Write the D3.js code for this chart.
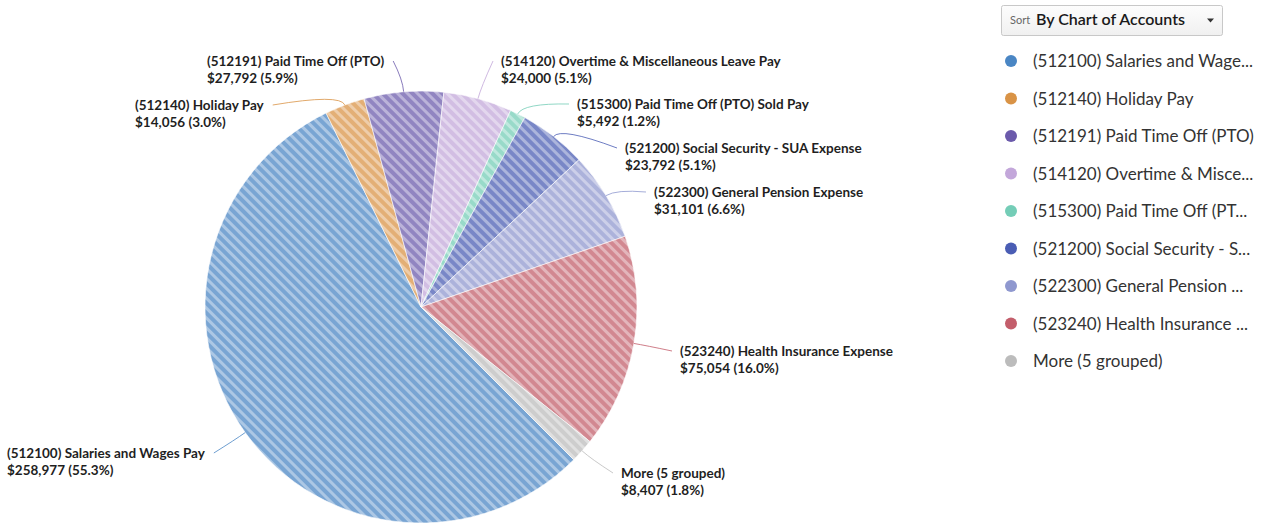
<!DOCTYPE html>
<html>
<head>
<meta charset="utf-8">
<script src="https://cdn.jsdelivr.net/npm/d3@7"></script>
<style>
	body { margin: 0; background: #fff; }
	svg { display: block; font-family: Lato, "Open Sans", sans-serif; }
	.lbl { font-weight: bold; font-size: 13.5px; fill: #1f1f1f; }
	.leg text { font-size: 17px; fill: #333; }
</style>
</head>
<body>
<div id="chart"></div>
<script>
	'use strict'
	// values
	const accounts = ["(512100) Salaries and Wages Pay", "(512140) Holiday Pay", "(512191) Paid Time Off (PTO)",
		"(514120) Overtime & Miscellaneous Leave Pay", "(515300) Paid Time Off (PTO) Sold Pay",
		"(521200) Social Security - SUA Expense", "(522300) General Pension Expense",
		"(523240) Health Insurance Expense", "More (5 grouped)"]
	const legendNames = ["(512100) Salaries and Wage...", "(512140) Holiday Pay", "(512191) Paid Time Off (PTO)",
		"(514120) Overtime & Misce...", "(515300) Paid Time Off (PT...", "(521200) Social Security - S...",
		"(522300) General Pension ...", "(523240) Health Insurance ...", "More (5 grouped)"]
	const amounts = [258977, 14056, 27792, 24000, 5492, 23792, 31101, 75054, 8407]
	const colors = ["#4a86c4", "#d99346", "#6b5aab", "#c3a7da", "#74cdb7", "#4a5db4", "#8f98cf", "#c35e6b", "#bcbcbc"]

	// where each label sits (left x, first baseline) and which side its leader attaches
	const labelX = [7, 135, 207, 501, 577, 625, 654, 680, 621]
	const labelY = [458, 110, 66, 66, 109, 153, 197, 356, 478]
	const labelSide = ["left", "left", "left", "right", "right", "right", "right", "right", "right"]

	let w = 1261, h = 527
	let cx = 421, cy = 307, r = 216

	let svg = d3.select('#chart').append('svg').attr('width', w).attr('height', h)
	let defs = svg.append('defs')

	colors.forEach(function(c, i){
		let p = defs.append('pattern').attr('id', 'hatch' + i)
			.attr('patternUnits', 'userSpaceOnUse')
			.attr('width', 7).attr('height', 7)
			.attr('patternTransform', 'rotate(-45)')
		p.append('rect').attr('width', 7).attr('height', 7).attr('fill', '#fff')
		p.append('rect').attr('width', 7).attr('height', 7).attr('fill', c).attr('fill-opacity', 0.74)
		p.append('rect').attr('width', 3).attr('height', 7).attr('fill', '#fff').attr('fill-opacity', 0.38)
	})

	let total = d3.sum(amounts)
	let pie = d3.pie().sort(null).value(function(d){ return d })
		.startAngle(Math.PI * 3 / 4).endAngle(Math.PI * 3 / 4 + 2 * Math.PI)
	let arcs = pie(amounts)
	let arc = d3.arc().innerRadius(0).outerRadius(r)

	let g = svg.append('g').attr('transform', 'translate(' + cx + ',' + cy + ')')
	g.selectAll('path.slice').data(arcs).enter().append('path')
		.attr('class', 'slice')
		.attr('d', arc)
		.attr('fill', function(d, i){ return 'url(#hatch' + i + ')' })
		.attr('stroke', '#fff').attr('stroke-width', 0.6)

	// labels
	let fmt = d3.format(',')
	let labels = svg.append('g')
	arcs.forEach(function(d, i){
		let t = labels.append('text').attr('class', 'lbl')
		t.append('tspan').attr('x', labelX[i]).attr('y', labelY[i]).text(accounts[i])
		t.append('tspan').attr('x', labelX[i]).attr('y', labelY[i] + 17)
			.text('$' + fmt(amounts[i]) + ' (' + (amounts[i] / total * 100).toFixed(1) + '%)')

		let first = t.select('tspan').node().getComputedTextLength()
		let ex = labelSide[i] == 'left' ? labelX[i] + first + 9 : labelX[i] - 8
		let ey = labelY[i] - 5

		let mid = (d.startAngle + d.endAngle) / 2
		let ax = cx + Math.sin(mid) * r, ay = cy - Math.cos(mid) * r
		let kx = cx + Math.sin(mid) * (r + 12), ky = cy - Math.cos(mid) * (r + 12)
		labels.append('path')
			.attr('d', 'M' + ax + ',' + ay + 'Q' + kx + ',' + ky + ' ' + ex + ',' + ey)
			.attr('fill', 'none')
			.attr('stroke', colors[i]).attr('stroke-opacity', 0.8).attr('stroke-width', 1)
	})

	// sort box
	let sortG = svg.append('g')
	let grad = defs.append('linearGradient').attr('id', 'btn').attr('x1', 0).attr('y1', 0).attr('x2', 0).attr('y2', 1)
	grad.append('stop').attr('offset', 0).attr('stop-color', '#fdfdfd')
	grad.append('stop').attr('offset', 1).attr('stop-color', '#f0f0f0')
	sortG.append('rect').attr('x', 1001.5).attr('y', 5.5).attr('width', 221).attr('height', 30).attr('rx', 2)
		.attr('fill', 'url(#btn)').attr('stroke', '#c8c8c8')
	sortG.append('text').attr('x', 1010).attr('y', 24).style('font-size', '11px').style('fill', '#666').text('Sort')
	sortG.append('text').attr('x', 1036).attr('y', 25).style('font-size', '16px').style('fill', '#1a1a1a')
		.style('font-weight', 600).text('By Chart of Accounts')
	sortG.append('path').attr('d', 'M1207,18.5l7,0l-3.5,4z').attr('fill', '#333')

	// legend
	let leg = svg.append('g').attr('class', 'leg')
	let ly = d3.scaleLinear().domain([0, legendNames.length - 1]).range([61, 361])
	let items = leg.selectAll('g').data(legendNames).enter().append('g')
		.attr('transform', function(d, i){ return 'translate(1011,' + ly(i) + ')' })
	items.append('circle').attr('r', 6).attr('fill', function(d, i){ return colors[i] })
	items.append('text').attr('x', 22).attr('y', 6).text(function(d){ return d })
</script>
</body>
</html>
